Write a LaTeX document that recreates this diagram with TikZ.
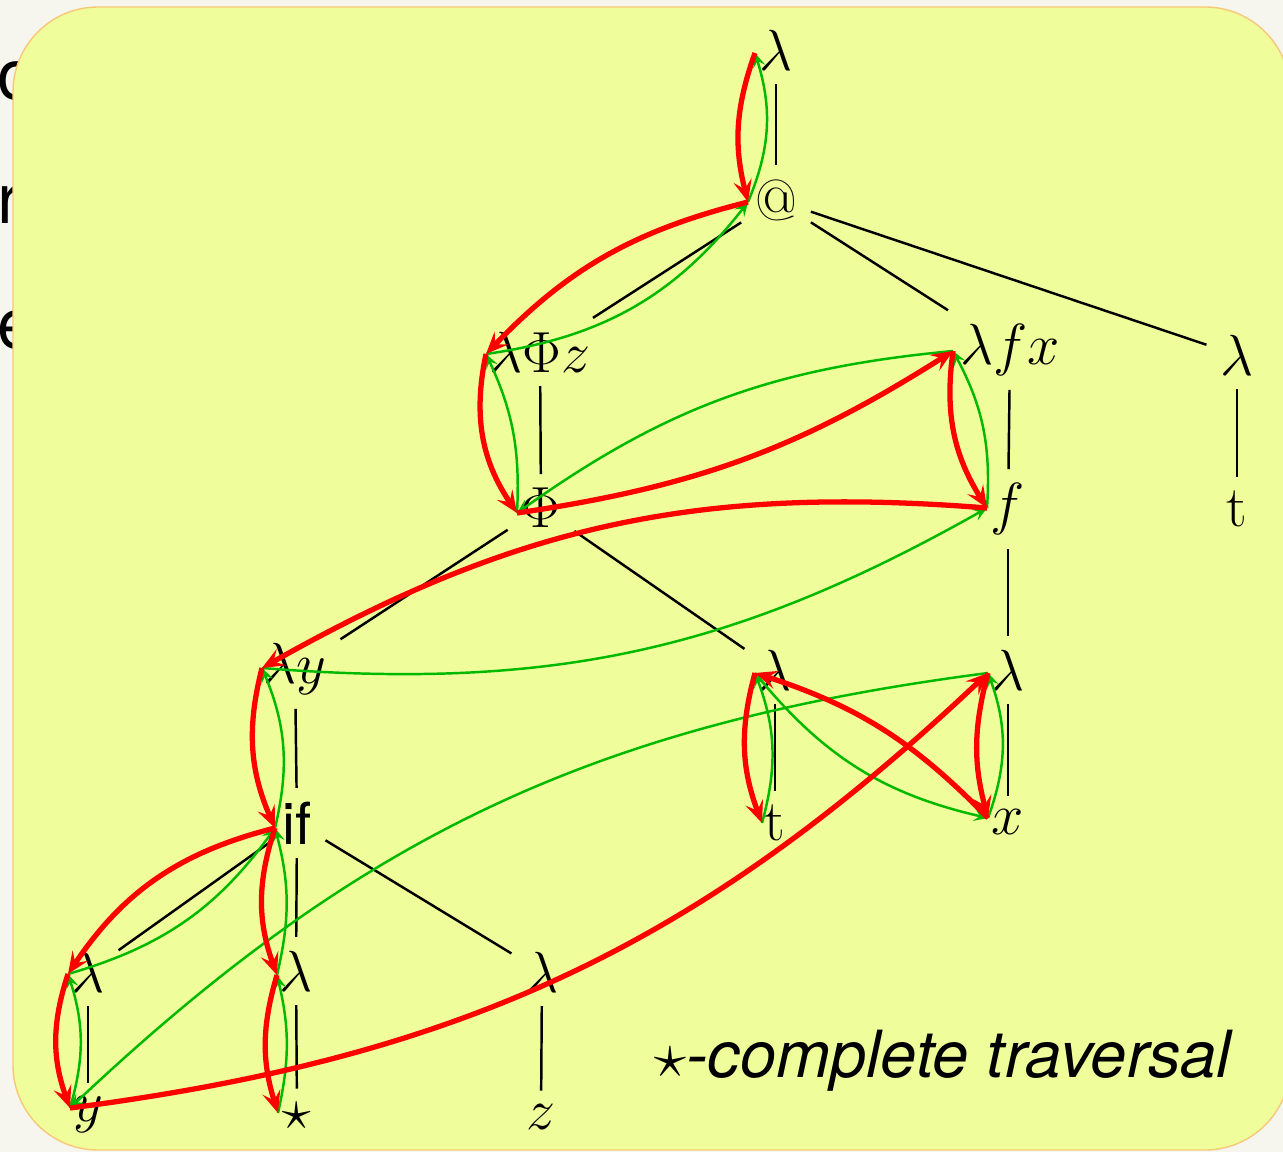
\RequirePackage{fix-cm}
\documentclass[tikz,border=0pt]{standalone}
\usepackage{fontspec}
\newfontfamily\hv{TeX Gyre Heros}
\usetikzlibrary{arrows.meta}
\definecolor{bgbeige}{RGB}{247,246,238}
\definecolor{boxyellow}{RGB}{239,253,154}
\definecolor{boxborder}{RGB}{246,200,120}
\definecolor{tred}{RGB}{255,0,0}
\definecolor{tgreen}{RGB}{0,185,0}
\tikzset{
  lab/.style={inner sep=0.28cm, outer sep=0pt, font=\fontsize{33}{40}\selectfont},
  treeedge/.style={draw=black, line width=1.4pt},
  redarr/.style={draw=tred, line width=3pt, -{Stealth[length=12.5pt,width=10.5pt,inset=5pt]}},
  greenarr/.style={draw=tgreen, line width=1.4pt, -{Stealth[length=8pt,width=7pt,inset=3.2pt]}},
}
\begin{document}
\begin{tikzpicture}[x=0.02cm,y=0.02cm]
\fill[bgbeige] (0,0) rectangle (1283,-1152);
\useasboundingbox (0,0) rectangle (1283,-1152);
% partly hidden slide text
\node[anchor=base west, inner sep=0pt, font=\hv\fontsize{40}{48}\selectfont] (c1) at (-3,-100) {o};
\node[anchor=base west, inner sep=0pt, font=\hv\fontsize{40}{48}\selectfont] (c2) at (-3,-223) {r};
\node[anchor=base west, inner sep=0pt, font=\hv\fontsize{40}{48}\selectfont] (c3) at (-3,-348) {e};
% panel
\filldraw[fill=boxyellow, draw=boxborder, line width=0.8pt, rounded corners=1.7cm] (13,-7) rectangle (1290,-1150);

% nodes
\node[lab] (n0)   at (776,-50)   {$\lambda$};
\node[lab] (nat)  at (776,-200)  {@};
\node[lab] (nlpz) at (540,-352)  {$\lambda\Phi z$};
\node[lab] (nphi) at (541,-508)  {$\Phi$};
\node[lab] (nlfx) at (1010,-350) {$\lambda f x$};
\node[lab] (nf)   at (1008,-509) {$f$};
\node[lab] (nlt)  at (1237,-355) {$\lambda$};
\node[lab] (nt1)  at (1237,-509) {$\mathrm{t}$};
\node[lab] (nly)  at (295,-669)  {$\lambda y$};
\node[lab] (nlm)  at (775,-670)  {$\lambda$};
\node[lab] (nlr)  at (1008,-670) {$\lambda$};
\node[lab, font=\hv\fontsize{33}{40}\selectfont] (nif) at (297,-823) {if};
\node[lab] (nt2)  at (775,-823)  {$\mathrm{t}$};
\node[lab] (nx)   at (1008,-822) {$x$};
\node[lab] (nll)  at (88,-972)   {$\lambda$};
\node[lab] (nls)  at (296,-971)  {$\lambda$};
\node[lab] (nlz)  at (542,-972)  {$\lambda$};
\node[lab] (ny)   at (88,-1115)  {$y$};
\node[lab] (nst)  at (297,-1116) {$\star$};
\node[lab] (nz)   at (541,-1117) {$z$};

\node[anchor=base west, inner sep=0pt, font=\hv\itshape\fontsize{37}{44}\selectfont] (cap) at (654,-1077) {{\normalfont$\star$}-complete traversal};

% tree edges
\draw[treeedge] (n0) -- (nat);
\draw[treeedge] (nat) -- (nlpz);
\draw[treeedge] (nat) -- (nlfx);
\draw[treeedge] (nat) -- (nlt);
\draw[treeedge] (nlpz) -- (nphi);
\draw[treeedge] (nlfx) -- (nf);
\draw[treeedge] (nlt) -- (nt1);
\draw[treeedge] (nphi) -- (nly);
\draw[treeedge] (nphi) -- (nlm);
\draw[treeedge] (nf) -- (nlr);
\draw[treeedge] (nly) -- (nif);
\draw[treeedge] (nlm) -- (nt2);
\draw[treeedge] (nlr) -- (nx);
\draw[treeedge] (nif) -- (nll);
\draw[treeedge] (nif) -- (nls);
\draw[treeedge] (nif) -- (nlz);
\draw[treeedge] (nll) -- (ny);
\draw[treeedge] (nls) -- (nst);
\draw[treeedge] (nlz) -- (nz);

% arrow ports
\coordinate (aL0)  at ([shift={(-21,-3)}]n0.center);
\coordinate (aAT)  at ([shift={(-28,-2)}]nat.center);
\coordinate (aLPZ) at ([shift={(-54,-2)}]nlpz.center);
\coordinate (aPHI) at ([shift={(-24,-5)}]nphi.center);
\coordinate (aLFX) at ([shift={(-57,-1)}]nlfx.center);
\coordinate (aF)   at ([shift={(-21,1)}]nf.center);
\coordinate (aLY)  at ([shift={(-33,1)}]nly.center);
\coordinate (aIF)  at ([shift={(-22,-5)}]nif.center);
\coordinate (aLM)  at ([shift={(-20,-3)}]nlm.center);
\coordinate (aLR)  at ([shift={(-20,-3)}]nlr.center);
\coordinate (aT2)  at ([shift={(-13,0)}]nt2.center);
\coordinate (aX)   at ([shift={(-20,4)}]nx.center);
\coordinate (aLL)  at ([shift={(-20,-2)}]nll.center);
\coordinate (aLS)  at ([shift={(-19,-4)}]nls.center);
\coordinate (aY)   at ([shift={(-18,7)}]ny.center);
\coordinate (aST)  at ([shift={(-19,3)}]nst.center);

% green arrows
\draw[greenarr] (aAT) to[bend right=20] (aL0);
\draw[greenarr] (aLPZ) to[bend right=22] (aAT);
\draw[greenarr] (aPHI) to[bend right=14] (aLPZ);
\draw[greenarr] (aLFX) to[bend right=15] (aPHI);
\draw[greenarr] (aF) to[bend right=16] (aLFX);
\draw[greenarr] (aLY) to[bend right=17] (aF);
\draw[greenarr] (aIF) to[bend right=18] (aLY);
\draw[greenarr] (aLL) to[bend right=19] (aIF);
\draw[greenarr] (aY) to[bend right=17] (aLL);
\draw[greenarr] (aLR) to[bend right=18] (aY);
\draw[greenarr] (aX) to[bend right=20] (aLR);
\draw[greenarr] (aLM) to[bend right=19] (aX);
\draw[greenarr] (aT2) to[bend right=18] (aLM);
\draw[greenarr] (aLS) to[bend right=14] (aIF);
\draw[greenarr] (aST) to[bend right=13] (aLS);

% red arrows
\draw[redarr] (aL0) to[bend right=17] (aAT);
\draw[redarr] (aAT) to[bend right=16] (aLPZ);
\draw[redarr] (aLPZ) to[bend right=23] (aPHI);
\draw[redarr] (aPHI) to[bend right=12] (aLFX);
\draw[redarr] (aLFX) to[bend right=20] (aF);
\draw[redarr] (aF) to[bend right=17] (aLY);
\draw[redarr] (aLY) to[bend right=19] (aIF);
\draw[redarr] (aIF) to[bend right=21] (aLL);
\draw[redarr] (aLL) to[bend right=19] (aY);
\draw[redarr] (aY) to[bend right=18] (aLR);
\draw[redarr] (aLR) to[bend right=15] (aX);
\draw[redarr] (aX) to[bend right=14] (aLM);
\draw[redarr] (aLM) to[bend right=18] (aT2);
\draw[redarr] (aIF) to[bend right=19] (aLS);
\draw[redarr] (aLS) to[bend right=17] (aST);
\end{tikzpicture}
\end{document}
